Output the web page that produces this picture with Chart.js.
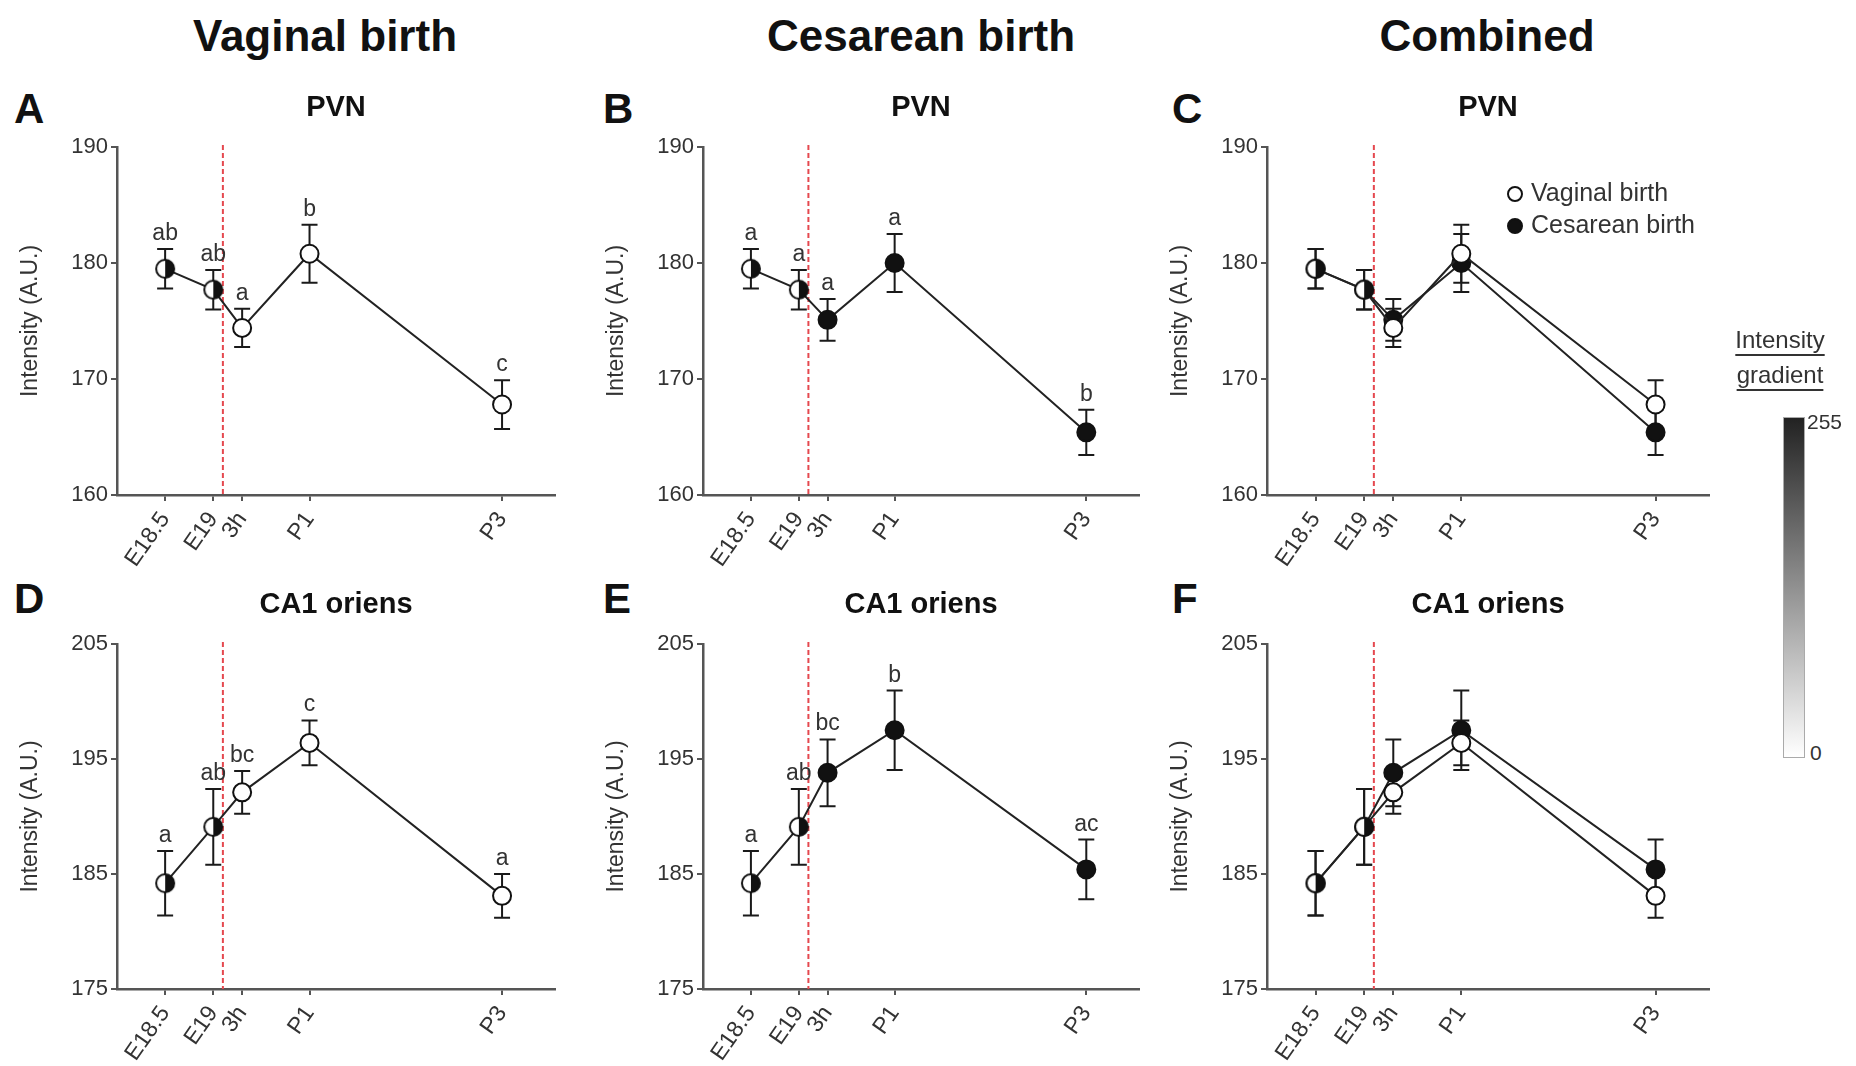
<!DOCTYPE html>
<html>
<head>
<meta charset="utf-8">
<script src="https://cdn.jsdelivr.net/npm/chart.js@4.4.0/dist/chart.umd.min.js"></script>
<style>
  body { margin: 0; width: 1856px; height: 1066px; background: #fff; position: relative; overflow: hidden;
         font-family: "Liberation Sans", Arial, sans-serif; color: #111; }
  .col { position: absolute; top: 14px; width: 400px; text-align: center; font-size: 44px; font-weight: bold; line-height: 44px; }
  .letter { position: absolute; font-size: 42px; font-weight: bold; line-height: 42px; }
  .panel { position: absolute; }
  .leg { position: absolute; left: 1507px; font-size: 25px; line-height: 30px; color: #333; white-space: nowrap; }
  .dot { display: inline-block; width: 12px; height: 12px; border: 2px solid #111; border-radius: 50%; margin-right: 8px; vertical-align: -1px; }
  .cbtitle { position: absolute; left: 1720px; width: 120px; text-align: center; font-size: 24px; line-height: 30px; color: #333;
             text-decoration: underline; text-decoration-thickness: 2px; text-underline-offset: 6px; }
  .cblab { position: absolute; font-size: 21px; color: #333; line-height: 21px; }
</style>
</head>
<body>
<div class="col" style="left:125px">Vaginal birth</div>
<div class="col" style="left:721px">Cesarean birth</div>
<div class="col" style="left:1287px">Combined</div>

<div class="letter" style="left:14px;top:88px">A</div>
<div class="letter" style="left:603px;top:88px">B</div>
<div class="letter" style="left:1172px;top:88px">C</div>
<div class="letter" style="left:14px;top:578px">D</div>
<div class="letter" style="left:603px;top:578px">E</div>
<div class="letter" style="left:1172px;top:578px">F</div>

<div class="panel" style="left:0px;top:75px"><canvas id="pA" width="575" height="505"></canvas></div>
<div class="panel" style="left:586px;top:75px"><canvas id="pB" width="573" height="505"></canvas></div>
<div class="panel" style="left:1150px;top:75px"><canvas id="pC" width="579" height="505"></canvas></div>
<div class="panel" style="left:0px;top:572px"><canvas id="pD" width="575" height="494"></canvas></div>
<div class="panel" style="left:586px;top:572px"><canvas id="pE" width="573" height="494"></canvas></div>
<div class="panel" style="left:1150px;top:572px"><canvas id="pF" width="579" height="494"></canvas></div>

<div class="leg" style="top:177px"><span class="dot" style="background:#fff"></span>Vaginal birth</div>
<div class="leg" style="top:209px"><span class="dot" style="background:#111"></span>Cesarean birth</div>

<div class="cbtitle" style="top:325px">Intensity</div>
<div class="cbtitle" style="top:360px">gradient</div>
<div style="position:absolute;left:1783px;top:417px;width:20px;height:339px;border:1px solid #aaa;background:linear-gradient(to bottom,#222,#fff)"></div>
<div class="cblab" style="left:1807px;top:411px">255</div>
<div class="cblab" style="left:1810px;top:742px">0</div>

<script>
// time points (days after E18.5) and their tick labels
const timeLabels = ['E18.5', 'E19', '3h', 'P1', 'P3'];
const timeDays = [0, 0.5, 0.8, 1.5, 3.5];
const birthDay = 0.6;

// PVN
const pvnTicks = [160, 170, 180, 190];
const pvnVaginal = [179.5, 177.7, 174.4, 180.8, 167.8];
const pvnVaginalSem = [1.7, 1.7, 1.65, 2.5, 2.1];
const pvnVaginalLetters = ['ab', 'ab', 'a', 'b', 'c'];
const pvnCesarean = [179.5, 177.7, 175.1, 180.0, 165.4];
const pvnCesareanSem = [1.7, 1.7, 1.8, 2.5, 1.95];
const pvnCesareanLetters = ['a', 'a', 'a', 'a', 'b'];

// CA1 oriens
const ca1Ticks = [175, 185, 195, 205];
const ca1Vaginal = [184.2, 189.1, 192.1, 196.4, 183.1];
const ca1VaginalSem = [2.8, 3.3, 1.85, 1.95, 1.9];
const ca1VaginalLetters = ['a', 'ab', 'bc', 'c', 'a'];
const ca1Cesarean = [184.2, 189.1, 193.8, 197.5, 185.4];
const ca1CesareanSem = [2.8, 3.3, 2.9, 3.45, 2.6];
const ca1CesareanLetters = ['a', 'ab', 'bc', 'b', 'ac'];

Chart.defaults.font.family = "'Liberation Sans', Arial, sans-serif";

// half white / half black marker for the prenatal points
function halfMarker() {
    const c = document.createElement('canvas');
    c.width = 24; c.height = 24;
    const g = c.getContext('2d');
    g.beginPath(); g.arc(12, 12, 9, 0, Math.PI * 2); g.fillStyle = '#fff'; g.fill();
    g.beginPath(); g.moveTo(12, 3); g.arc(12, 12, 9, -Math.PI / 2, Math.PI / 2); g.closePath();
    g.fillStyle = '#111'; g.fill();
    g.beginPath(); g.arc(12, 12, 9, 0, Math.PI * 2); g.lineWidth = 2; g.strokeStyle = '#111'; g.stroke();
    return c;
}
const half = halfMarker();

const birthLine = {
    id: 'birthLine',
    beforeDatasetsDraw(chart) {
        const {ctx, chartArea} = chart;
        const x = chart.scales.x.getPixelForValue(birthDay);
        ctx.save();
        ctx.strokeStyle = '#e5484f';
        ctx.lineWidth = 2;
        ctx.setLineDash([5, 3]);
        ctx.beginPath();
        ctx.moveTo(x, chartArea.top - 2);
        ctx.lineTo(x, chartArea.bottom);
        ctx.stroke();
        ctx.restore();
    }
};

const errorBars = {
    id: 'errorBars',
    beforeDatasetsDraw(chart) {
        const {ctx} = chart;
        const xs = chart.scales.x, ys = chart.scales.y;
        ctx.save();
        ctx.strokeStyle = '#1a1a1a';
        ctx.lineWidth = 2;
        chart.data.datasets.forEach(ds => {
            ds.data.forEach((p, i) => {
                const x = xs.getPixelForValue(p.x);
                const top = ys.getPixelForValue(p.y + ds.sem[i]);
                const bot = ys.getPixelForValue(p.y - ds.sem[i]);
                ctx.beginPath();
                ctx.moveTo(x, top); ctx.lineTo(x, bot);
                ctx.moveTo(x - 8, top); ctx.lineTo(x + 8, top);
                ctx.moveTo(x - 8, bot); ctx.lineTo(x + 8, bot);
                ctx.stroke();
            });
        });
        ctx.restore();
    },
    afterDatasetsDraw(chart) {
        const {ctx} = chart;
        const xs = chart.scales.x, ys = chart.scales.y;
        ctx.save();
        ctx.fillStyle = '#333';
        ctx.font = "23px 'Liberation Sans', Arial, sans-serif";
        ctx.textAlign = 'center';
        ctx.textBaseline = 'alphabetic';
        chart.data.datasets.forEach(ds => {
            if (!ds.letters) return;
            ds.data.forEach((p, i) => {
                const x = xs.getPixelForValue(p.x);
                const top = ys.getPixelForValue(p.y + ds.sem[i]);
                ctx.fillText(ds.letters[i], x, top - 9);
            });
        });
        ctx.restore();
    }
};

function series(label, means, sems, letters, fill) {
    return {
        label: label,
        data: means.map((v, i) => ({x: timeDays[i], y: v})),
        sem: sems,
        letters: letters,
        borderColor: '#222',
        borderWidth: 2,
        pointRadius: 9,
        pointBorderWidth: 2,
        pointBorderColor: '#111',
        pointBackgroundColor: fill,
        pointStyle: ctx => ctx.dataIndex < 2 ? half : 'circle'
    };
}

function makePanel(id, title, tickVals, axisH, datasets) {
    const axisGrid = {display: true, drawOnChartArea: false, drawTicks: true, tickLength: 6, color: '#555', lineWidth: 2};
    const axisBorder = {display: true, color: '#555', width: 2.5};
    new Chart(document.getElementById(id).getContext('2d'), {
        type: 'line',
        data: {datasets: datasets},
        options: {
            responsive: false,
            animation: false,
            events: [],
            layout: {padding: {left: 0, right: 20, top: 0, bottom: 0}},
            plugins: {
                legend: {display: false},
                tooltip: {enabled: false},
                title: {
                    display: true, text: title, fullSize: false, color: '#111',
                    font: {size: 29, weight: 'bold'},
                    padding: {top: 15.6, bottom: 21.6}
                }
            },
            scales: {
                x: {
                    type: 'linear', min: -0.5, max: 4.05,
                    afterBuildTicks: s => { s.ticks = timeDays.map(v => ({value: v})); },
                    afterFit: s => { s.height = axisH; },
                    ticks: {
                        autoSkip: false, minRotation: 55, maxRotation: 55, padding: 6,
                        color: '#333', font: {size: 23},
                        callback: v => timeLabels[timeDays.indexOf(v)]
                    },
                    grid: axisGrid,
                    border: axisBorder
                },
                y: {
                    min: tickVals[0], max: tickVals[tickVals.length - 1],
                    afterBuildTicks: s => { s.ticks = tickVals.map(v => ({value: v})); },
                    afterFit: s => { s.width = 117; },
                    ticks: {color: '#333', font: {size: 22}, padding: 3},
                    grid: axisGrid,
                    border: axisBorder,
                    title: {
                        display: true, text: 'Intensity (A.U.)', color: '#333',
                        font: {size: 23}, padding: {top: 17, bottom: 0}
                    }
                }
            }
        },
        plugins: [birthLine, errorBars]
    });
}

makePanel('pA', 'PVN', pvnTicks, 85, [
    series('Vaginal birth', pvnVaginal, pvnVaginalSem, pvnVaginalLetters, '#fff')
]);
makePanel('pB', 'PVN', pvnTicks, 85, [
    series('Cesarean birth', pvnCesarean, pvnCesareanSem, pvnCesareanLetters, '#111')
]);
makePanel('pC', 'PVN', pvnTicks, 85, [
    series('Vaginal birth', pvnVaginal, pvnVaginalSem, null, '#fff'),
    series('Cesarean birth', pvnCesarean, pvnCesareanSem, null, '#111')
]);
makePanel('pD', 'CA1 oriens', ca1Ticks, 77, [
    series('Vaginal birth', ca1Vaginal, ca1VaginalSem, ca1VaginalLetters, '#fff')
]);
makePanel('pE', 'CA1 oriens', ca1Ticks, 77, [
    series('Cesarean birth', ca1Cesarean, ca1CesareanSem, ca1CesareanLetters, '#111')
]);
makePanel('pF', 'CA1 oriens', ca1Ticks, 77, [
    series('Vaginal birth', ca1Vaginal, ca1VaginalSem, null, '#fff'),
    series('Cesarean birth', ca1Cesarean, ca1CesareanSem, null, '#111')
]);
</script>
</body>
</html>
